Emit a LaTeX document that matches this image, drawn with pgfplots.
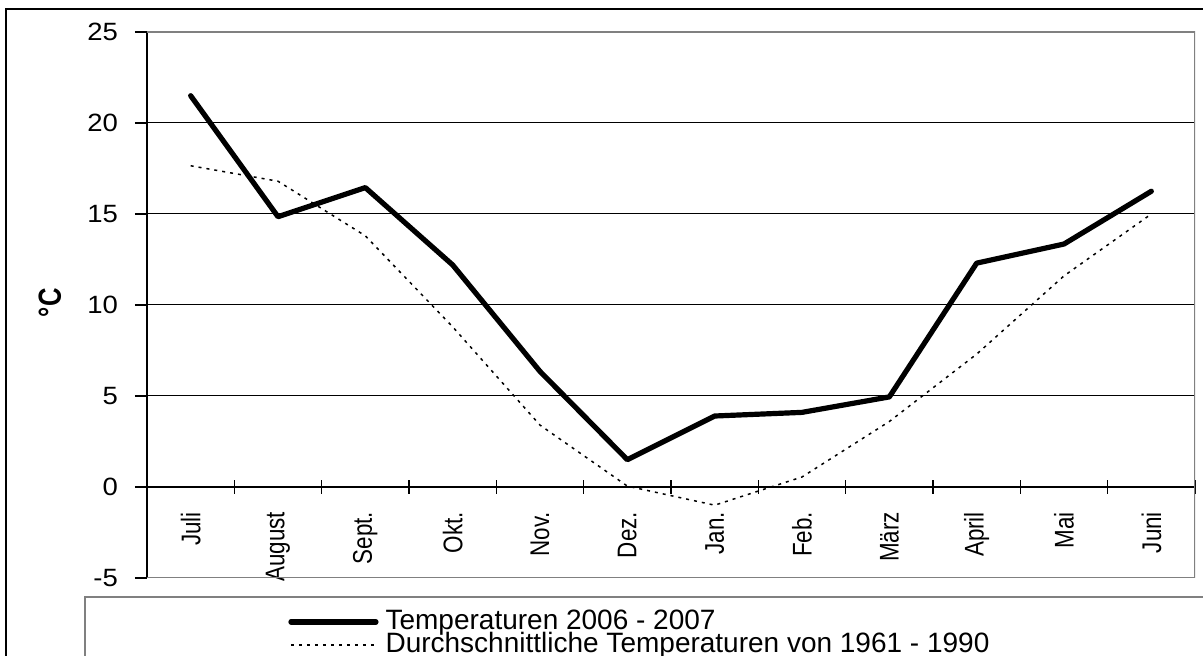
\documentclass[border=0pt]{standalone}
\usepackage{fontspec}
\setmainfont{Liberation Sans}
\newfontfamily\tickfont[FakeStretch=1.1]{Liberation Sans}
\newfontfamily\monthfont[FakeStretch=0.83]{Liberation Sans}
\newfontfamily\labfont[FakeStretch=0.8]{Liberation Sans}
\usepackage{pgfplots}
\pgfplotsset{compat=1.18}
\begin{document}
\begin{tikzpicture}
\begin{axis}[
  at={(73.5pt,-16pt)}, anchor=north west,
  scale only axis, width=524pt, height=273pt,
  xmin=-0.5, xmax=11.5, ymin=-5, ymax=25,
  axis x line=middle, axis y line=left,
  axis line style={-},
  x axis line style={black, line width=0.6pt},
  y axis line style={black, line width=0.6pt},
  hide obscured x ticks=false, hide obscured y ticks=false,
  xtick={0,...,11},
  xticklabels={Juli,August,Sept.,Okt.,Nov.,Dez.,Jan.,Feb.,März,April,Mai,Juni},
  major x tick style={draw=none},
  minor xtick={-0.5,0.5,1.5,2.5,3.5,4.5,5.5,6.5,7.5,8.5,9.5,10.5,11.5},
  minor x tick style={black, line width=0.6pt},
  xtick align=center,
  minor tick length=7pt,
  ytick={-5,0,...,25},
  ytick align=outside,
  major tick length=6pt,
  major y tick style={black, line width=0.6pt},
  ymajorgrids, major grid style={black, line width=0.5pt},
  xticklabel style={yshift=-6pt, rotate=90, anchor=east, font=\fontsize{13.5}{15}\monthfont},
  yticklabel style={xshift=-5pt, anchor=east, font=\fontsize{12.5}{14}\tickfont},
  /pgf/number format/assume math mode=true,
  ylabel={°C},
  every axis y label/.style={at={(axis description cs:-0.0926,0.504)}, rotate=90, anchor=center, font=\fontsize{16}{18}\labfont\bfseries},
  legend cell align=left,
  legend image code/.code={\draw[#1] (0pt,0pt) -- (42.5pt,0pt); \path (46pt,0pt);},
  legend style={at={(axis description cs:0.1345,-0.0587)}, anchor=north west,
    draw=none, fill=none, inner sep=0pt, row sep=0pt,
    font=\fontsize{14}{15}\selectfont,
    nodes={inner sep=0pt, text height=9.5pt, text depth=2pt}},
]
\addplot[black, line width=2.6pt, line join=round, line cap=round] coordinates {
  (0,21.5) (1,14.85) (2,16.45) (3,12.2) (4,6.35) (5,1.5)
  (6,3.9) (7,4.1) (8,4.95) (9,12.3) (10,13.35) (11,16.25)};
\addlegendentry{Temperaturen 2006 - 2007}
\addplot[black, line width=0.75pt, dash pattern=on 1.5pt off 2.5pt] coordinates {
  (0,17.65) (1,16.8) (2,13.8) (3,8.8) (4,3.4) (5,0.05)
  (6,-1.0) (7,0.55) (8,3.6) (9,7.3) (10,11.6) (11,15.0)};
\addlegendentry{Durchschnittliche Temperaturen von 1961 - 1990}
\draw[gray, line width=0.9pt] (rel axis cs:0,1) -- (rel axis cs:1,1) -- (rel axis cs:1,0) -- (rel axis cs:0,0);
\end{axis}
\draw[black, line width=1.3pt] (3pt,-4.5pt) rectangle (640pt,-360pt);
\draw[gray, line width=0.9pt] (42.5pt,-298.5pt) rectangle (640pt,-360pt);
\pgfresetboundingbox
\path[use as bounding box] (0pt,0pt) rectangle (601.5pt,-328pt);
\end{tikzpicture}
\end{document}
